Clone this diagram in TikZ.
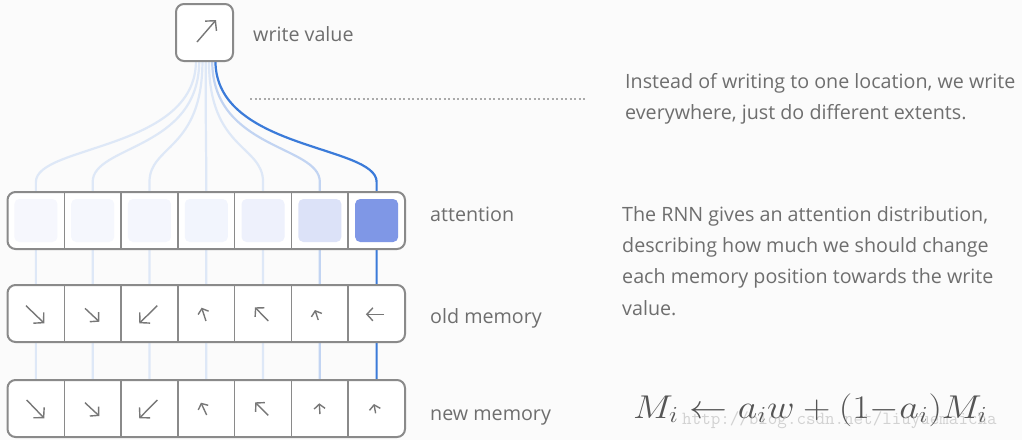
\documentclass[tikz,border=0pt]{standalone}
\usepackage{fontspec}
\usepackage{graphicx}
\setmainfont{Open Sans}
\usetikzlibrary{arrows.meta,calc}
\definecolor{bgc}{HTML}{FBFBFB}
\definecolor{boxc}{HTML}{8A8A8A}
\definecolor{txtc}{HTML}{6E6E6E}
\definecolor{formc}{HTML}{555555}
\definecolor{wmc}{HTML}{D2D2D2}
\definecolor{lite}{HTML}{DEE8F7}
\definecolor{mid}{HTML}{C2D4F2}
\definecolor{strong}{HTML}{3B7BD9}
\definecolor{c1}{HTML}{F6F7FD}
\definecolor{c2}{HTML}{F5F7FD}
\definecolor{c3}{HTML}{F4F6FD}
\definecolor{c4}{HTML}{F2F5FD}
\definecolor{c5}{HTML}{EEF1FC}
\definecolor{c6}{HTML}{DCE2F8}
\definecolor{c7}{HTML}{7F97E6}
\definecolor{arrc}{HTML}{777777}
\definecolor{dotc}{HTML}{AAAAAA}
\begin{document}
\begin{tikzpicture}[x=1pt,y=-1pt,
  cell/.style={minimum width=56.79pt,minimum height=57pt,inner sep=0pt,outer sep=0pt},
  rowbox/.style={draw=boxc,line width=2pt,rounded corners=8pt,fill=white,minimum width=397.5pt,minimum height=57pt,inner sep=0pt,outer sep=0pt},
  wbox/.style={draw=boxc,line width=2pt,rounded corners=8pt,fill=white,minimum size=57pt,inner sep=0pt,outer sep=0pt},
  divider/.style={draw=boxc,line width=1.5pt},
  wline/.style={line width=2.2pt},
  inner/.style={rounded corners=5pt,minimum size=43pt,inner sep=0pt},
  lbl/.style={text=txtc,font=\fontsize{19.7}{23}\selectfont,anchor=base west,inner sep=0pt},
  desc/.style={text=txtc,font=\fontsize{19.7}{23}\selectfont,anchor=base west,inner sep=0pt},
  bigarr/.style={draw=arrc,line width=1.4pt,-{Straight Barb[length=7pt,width=15pt]}},
  medarr/.style={draw=arrc,line width=1.4pt,-{Straight Barb[length=6pt,width=13pt]}},
  smallarr/.style={draw=arrc,line width=1.4pt,-{Straight Barb[length=4.5pt,width=11pt]}},
  dotline/.style={draw=dotc,line width=1.2pt,dash pattern=on 2pt off 2.5pt}
]
\useasboundingbox (0,0) rectangle (1022,440);
\fill[bgc] (0,0) rectangle (1022,440);

% invisible placeholders
\node[cell,minimum width=57pt] (w) at (204.5,32.5) {};
\foreach \r/\y in {a/220.5,o/313.5,n/408.5}{
  \foreach \k in {1,...,7}{
    \node[cell] (\r\k) at ({7.5+56.79*(\k-0.5)},\y) {};
  }
}

% connectors
\foreach \k/\col in {1/lite,2/lite,3/lite,4/lite,5/lite,6/mid,7/strong}{
  \coordinate (s\k) at ($(w.south)+({1.2+(\k-4)*3.25},0)$);
  \draw[wline,draw=\col] (s\k) .. controls +(0,89) and ($(a\k.north)+(0,-47)$) .. ($(a\k.north)+(0,-10)$) -- (a\k.north)
    (a\k.south) -- (o\k.north) (o\k.south) -- (n\k.north);
}

% boxes
\node[wbox] (wb) at (w) {};
\draw[bigarr] ($(wb.center)+(-7.5,9.5)$) -- ($(wb.center)+(11.5,-12.5)$);

\node[rowbox] (arow) at (206.25,220.5) {};
\node[rowbox] (orow) at (206.25,313.5) {};
\node[rowbox] (nrow) at (206.25,408.5) {};
\foreach \r in {a,o,n}{
  \foreach \k in {1,...,6}{
    \draw[divider] (\r\k.north east) -- (\r\k.south east);
  }
}
\foreach \k in {1,...,7}{
  \node[inner,fill=c\k] (f\k) at (a\k) {};
}

% old memory arrows
\draw[bigarr] ($(o1)+(-9.9,-7.8)$) -- ($(o1)+(8.4,9.8)$);
\draw[medarr] ($(o2)+(-7.7,-5.2)$) -- ($(o2)+(6.6,8.2)$);
\draw[bigarr] ($(o3)+(7.8,-7.8)$) -- ($(o3)+(-10.2,9.8)$);
\draw[smallarr] ($(o4)+(-0.3,7.5)$) -- ($(o4)+(-4.6,-5.8)$);
\draw[medarr] ($(o5)+(5.2,7.5)$) -- ($(o5)+(-8.1,-6.2)$);
\draw[smallarr] ($(o6)+(-1.6,6.5)$) -- ($(o6)+(-4.9,-3.5)$);
\draw[medarr] ($(o7)+(7.6,0.8)$) -- ($(o7)+(-10.7,0.8)$);

% new memory arrows
\draw[bigarr] ($(n1)+(-9.2,-8.5)$) -- ($(n1)+(8.4,9.8)$);
\draw[medarr] ($(n2)+(-7.7,-5.8)$) -- ($(n2)+(6.6,7.5)$);
\draw[bigarr] ($(n3)+(7.8,-8.5)$) -- ($(n3)+(-10.2,9.8)$);
\draw[smallarr] ($(n4)+(0.4,6.5)$) -- ($(n4)+(-5.3,-5.8)$);
\draw[medarr] ($(n5)+(5.2,6.8)$) -- ($(n5)+(-7.8,-6.2)$);
\draw[smallarr] ($(n6)+(0.1,5.5)$) -- ($(n6)+(-0.6,-5.2)$);
\draw[smallarr] ($(n7)+(-1,4.8)$) -- ($(n7)+(-2.7,-4.5)$);

% dotted guide
\coordinate (d1) at (250,99);
\coordinate (d2) at (585,99);
\draw[dotline] (d1) -- (d2);

% labels
\node[lbl] (lwv) at (253,41.7) {write value};
\node[lbl] (latt) at (430,221.7) {attention};
\node[lbl] (lold) at (430,323.3) {old memory};
\node[lbl] (lnew) at (430,420) {new memory};

% descriptions
\node[desc] (i1) at (625,88.3) {Instead of writing to one location, we write};
\node[desc] (i2) at (625,119.3) {everywhere, just do different extents.};
\node[desc] (r1) at (622,221.7) {The RNN gives an attention distribution,};
\node[desc] (r2) at (622,252.8) {describing how much we should change};
\node[desc] (r3) at (622,283.9) {each memory position towards the write};
\node[desc] (r4) at (622,315) {value.};

% watermark and formula
\node[anchor=base west,text=wmc,font=\ttfamily\fontsize{18.5}{20}\selectfont,inner sep=0pt] (wm) at (682,424) {http://blog.csdn.net/liuyuemaicha};
\node[anchor=base west,text=formc,font=\fontsize{20.74}{24}\selectfont,inner sep=0pt] (eq) at (633,418) {\scalebox{1.83}[1.59]{$M_i \leftarrow a_i w + (1{-}a_i)M_i$}};
\end{tikzpicture}
\end{document}
